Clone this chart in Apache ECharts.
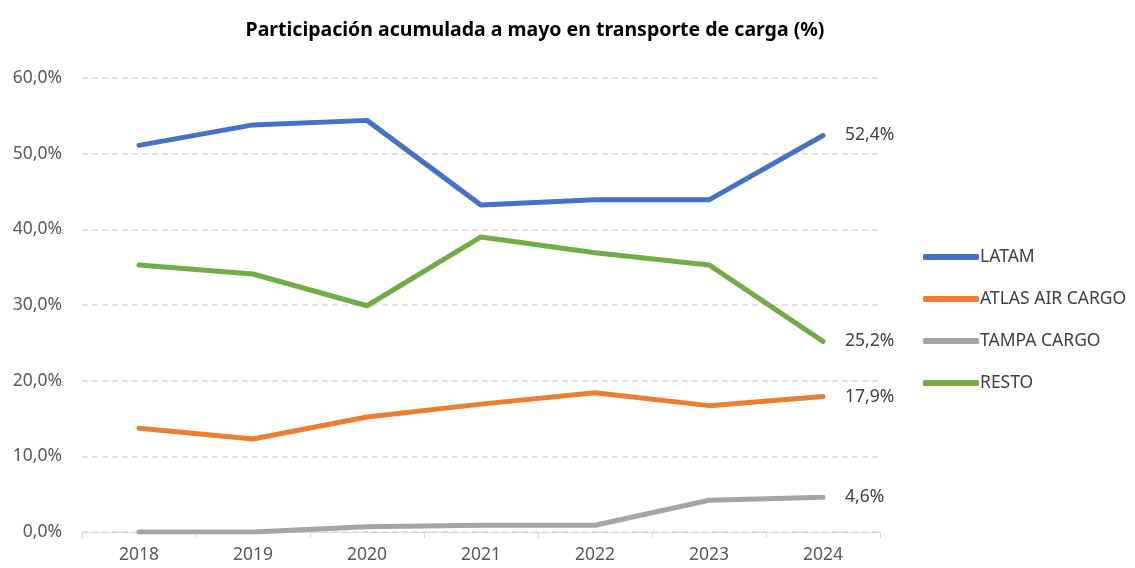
<!DOCTYPE html>
<html style="height: 100%">
<head>
    <meta charset="UTF-8">
    <script type="text/javascript" src="https://cdn.jsdelivr.net/npm/echarts@6/dist/echarts.min.js"></script>
</head>
<body style="height: 100%; margin: 0; background: #fff">
    <div id="container" style="width: 1135px; height: 568px;"></div>
    <script type="text/javascript">
        var years = ['2018', '2019', '2020', '2021', '2022', '2023', '2024'];
        var latam = [51.1, 53.8, 54.4, 43.2, 43.9, 43.9, 52.4];
        var atlas = [13.7, 12.3, 15.2, 16.9, 18.4, 16.7, 17.9];
        var tampa = [0.0, 0.0, 0.7, 0.9, 0.9, 4.2, 4.6];
        var resto = [35.3, 34.1, 29.9, 39.0, 36.9, 35.3, 25.2];
        var yTicks = [0, 10, 20, 30, 40, 50, 60];

        var fontFam = 'Noto Sans, sans-serif';

        function pct(v) {
            return v.toFixed(1).replace('.', ',') + '%';
        }

        function makeSeries(name, data, color) {
            return {
                name: name,
                type: 'line',
                data: data,
                symbol: 'none',
                lineStyle: { width: 5, color: color, cap: 'round', join: 'round' },
                itemStyle: { color: color },
                endLabel: {
                    show: true,
                    distance: 22,
                    color: '#404040',
                    fontSize: 17.5,
                    fontFamily: fontFam,
                    formatter: function (p) { return pct(p.value); }
                }
            };
        }

        var myChart = echarts.init(document.getElementById('container'));
        var option = {
            animation: false,
            title: {
                text: 'Participación acumulada a mayo en transporte de carga (%)',
                left: 530,
                top: 15,
                textAlign: 'center',
                textStyle: { fontSize: 19.5, fontWeight: 'bold', color: '#000', fontFamily: fontFam }
            },
            legend: {
                orient: 'vertical',
                left: 918,
                top: 243,
                itemGap: 24,
                itemWidth: 56,
                itemHeight: 6,
                icon: 'roundRect',
                textStyle: { fontSize: 17.5, color: '#404040', fontFamily: fontFam, padding: [0, 0, 0, -4] },
                data: ['LATAM', 'ATLAS AIR CARGO', 'TAMPA CARGO', 'RESTO']
            },
            grid: { left: 82, right: 255, top: 78, bottom: 36 },
            xAxis: {
                type: 'category',
                data: years,
                boundaryGap: true,
                axisLine: { lineStyle: { color: '#d9d9d9', width: 1 } },
                axisTick: { show: true, length: 6, lineStyle: { color: '#d9d9d9' } },
                axisLabel: { color: '#595959', fontSize: 17.5, fontFamily: fontFam, margin: 14 }
            },
            yAxis: {
                type: 'value',
                min: yTicks[0],
                max: yTicks[yTicks.length - 1],
                interval: 10,
                axisLine: { show: false },
                axisTick: { show: false },
                splitLine: { lineStyle: { color: '#d9d9d9', type: [6, 4], width: 1.5 } },
                axisLabel: {
                    color: '#595959', fontSize: 17.5, fontFamily: fontFam, margin: 20,
                    formatter: function (v) { return pct(v); }
                }
            },
            series: [
                makeSeries('LATAM', latam, '#4472c4'),
                makeSeries('ATLAS AIR CARGO', atlas, '#ed7d31'),
                makeSeries('TAMPA CARGO', tampa, '#a5a5a5'),
                makeSeries('RESTO', resto, '#70ad47')
            ]
        };
        myChart.setOption(option);
    </script>
</body>
</html>
